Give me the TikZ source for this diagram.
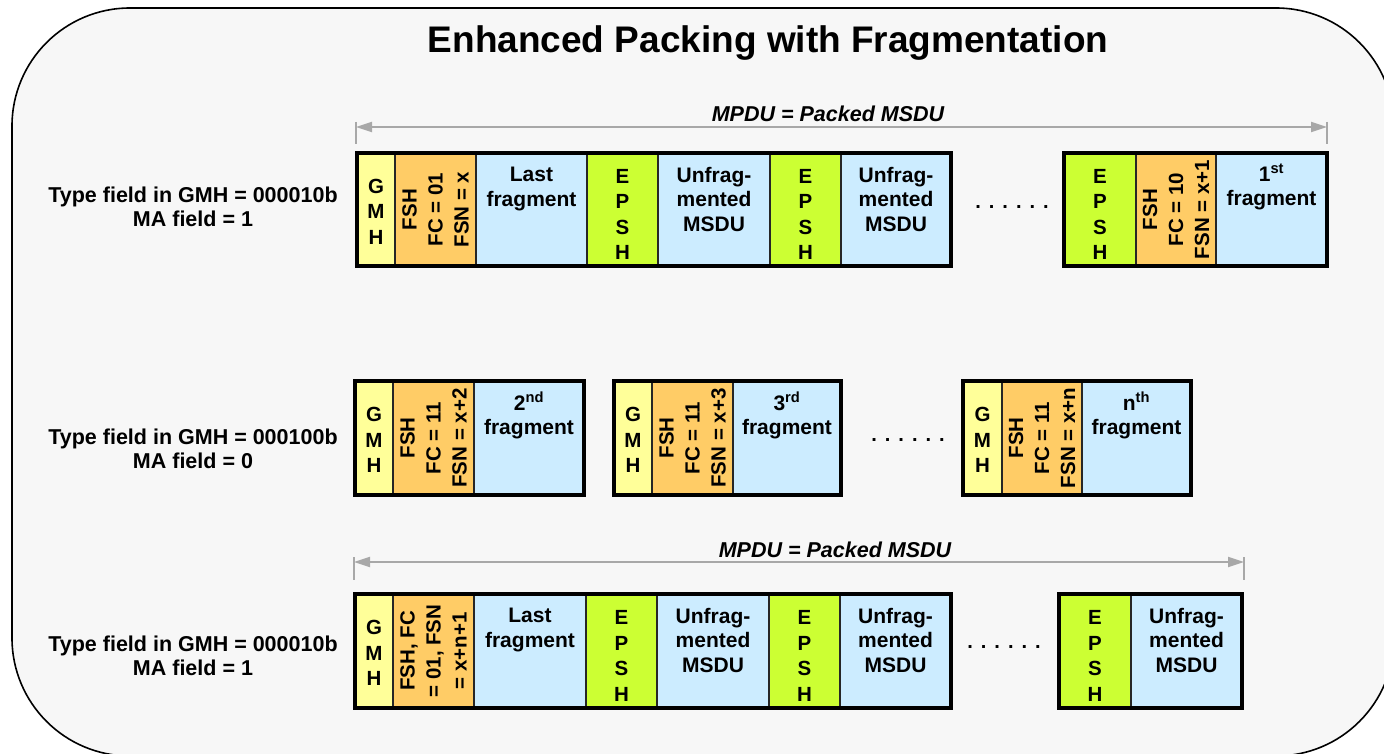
\documentclass[tikz,border=0pt]{standalone}
\usepackage{fontspec}
\setmainfont{Liberation Sans}
\usetikzlibrary{arrows.meta}
\definecolor{gmhc}{HTML}{FFFF99}
\definecolor{fshc}{HTML}{FFCC66}
\definecolor{datac}{HTML}{CCECFF}
\definecolor{epshc}{HTML}{CCFF33}
\definecolor{bgc}{HTML}{F7F7F7}
\definecolor{arrc}{HTML}{A8A8A8}
\newcommand\mkcell[6]{\node[cellbox, fill=#6, anchor=north west, minimum width={(#4-#2)*1pt}, minimum height={(#5-#3)*1pt}] (#1) at (#2,#3) {};}
\begin{document}
\begin{tikzpicture}[x=1pt,y=-1pt,
  cellbox/.style={draw=black!85, line width=1.3pt, inner sep=0pt, outer sep=0pt},
  outerbox/.style={draw=black, line width=4pt},
  ctext/.style={font=\fontsize{21}{24.5}\selectfont\bfseries, align=center, inner sep=0pt, text=black},
  rtext/.style={font=\fontsize{20.5}{26}\selectfont\bfseries, align=center, inner sep=0pt, rotate=90},
  stack/.style={font=\fontsize{20.5}{25.5}\selectfont\bfseries, align=center, inner sep=0pt},
  rowlabel/.style={font=\fontsize{21.5}{24.5}\selectfont\bfseries, align=center, inner sep=0pt},
  mpdu/.style={font=\fontsize{21.5}{24}\selectfont\bfseries\itshape, inner sep=0pt},
  dots/.style={font=\fontsize{20}{24}\selectfont\bfseries, inner sep=0pt},
  span/.style={draw=arrc, line width=1.8pt, {Triangle[length=16pt,width=10pt,fill=arrc]}-{Triangle[length=16pt,width=10pt,fill=arrc]}},
  tick/.style={draw=arrc, line width=1.8pt}
]
\useasboundingbox (0,0) rectangle (1384,754);
\begin{scope}
\clip[rounded corners=118pt] (12,8) rectangle (1394,756);
\fill[bgc] (0,0) rectangle (1400,760);
\end{scope}
\draw[line width=1.6pt, rounded corners=118pt] (12,8) rectangle (1394,756);

\node[font=\fontsize{37}{40}\selectfont\bfseries, inner sep=0pt] (title) at (768,43) {Enhanced Packing with Fragmentation};

% ---------- Row 1 ----------
\node[rowlabel] (lab1) at (193,207) {Type field in GMH = 000010b\\MA field = 1};
\coordinate (a1l) at (356,127);
\coordinate (a1r) at (1327,127);
\coordinate (t1lt) at (356,122); \coordinate (t1lb) at (356,144);
\coordinate (t1rt) at (1327,122); \coordinate (t1rb) at (1327,144);
\draw[tick] (t1lt) -- (t1lb);
\draw[tick] (t1rt) -- (t1rb);
\draw[span] (a1l) -- (a1r);
\node[mpdu] (m1) at (828,114) {MPDU = Packed MSDU};

\mkcell{g1}{357}{153}{395}{266}{gmhc}
\mkcell{f1}{395}{153}{476}{266}{fshc}
\mkcell{l1}{476}{153}{587}{266}{datac}
\mkcell{e1}{587}{153}{658}{266}{epshc}
\mkcell{u1}{658}{153}{770}{266}{datac}
\mkcell{e2}{770}{153}{841}{266}{epshc}
\mkcell{u2}{841}{153}{951}{266}{datac}
\draw[outerbox] (g1.north west) rectangle (u2.south east);
\node[stack] (g1t) at ([yshift=-2pt]g1.center) {G\\M\\H};
\node[rtext] (f1t) at (f1.center) {FSH\\FC = 01\\FSN = x};
\node[ctext, anchor=north] (l1t) at ([yshift=-14pt]l1.north) {Last\\fragment};
\node[stack] (e1t) at ([yshift=-5pt]e1.center) {E\\P\\S\\H};
\node[ctext, anchor=north] (u1t) at ([yshift=-14pt]u1.north) {Unfrag-\\mented\\MSDU};
\node[stack] (e2t) at ([yshift=-5pt]e2.center) {E\\P\\S\\H};
\node[ctext, anchor=north] (u2t) at ([yshift=-14pt]u2.north) {Unfrag-\\mented\\MSDU};

\node[dots] (d1) at (1012,207) {.\hspace{8pt}.\hspace{8pt}.\hspace{8pt}.\hspace{8pt}.\hspace{8pt}.};

\mkcell{e3}{1064}{153}{1136}{266}{epshc}
\mkcell{f2}{1136}{153}{1216}{266}{fshc}
\mkcell{s1}{1216}{153}{1327}{266}{datac}
\draw[outerbox] (e3.north west) rectangle (s1.south east);
\node[stack] (e3t) at ([yshift=-5pt]e3.center) {E\\P\\S\\H};
\node[rtext] (f2t) at (f2.center) {FSH\\FC = 10\\FSN = x+1};
\node[ctext, anchor=north] (s1t) at ([yshift=-11pt]s1.north) {1\textsuperscript{st}\\fragment};

% ---------- Row 2 ----------
\node[rowlabel] (lab2) at (193,449) {Type field in GMH = 000100b\\MA field = 0};

\mkcell{g2}{355}{381}{393}{495}{gmhc}
\mkcell{f3}{393}{381}{474}{495}{fshc}
\mkcell{s2}{474}{381}{584}{495}{datac}
\draw[outerbox] (g2.north west) rectangle (s2.south east);
\node[stack] (g2t) at ([yshift=-2pt]g2.center) {G\\M\\H};
\node[rtext] (f3t) at (f3.center) {FSH\\FC = 11\\FSN = x+2};
\node[ctext, anchor=north] (s2t) at ([yshift=-11pt]s2.north) {2\textsuperscript{nd}\\fragment};

\mkcell{g3}{614}{381}{652}{495}{gmhc}
\mkcell{f4}{652}{381}{733}{495}{fshc}
\mkcell{s3}{733}{381}{841}{495}{datac}
\draw[outerbox] (g3.north west) rectangle (s3.south east);
\node[stack] (g3t) at ([yshift=-2pt]g3.center) {G\\M\\H};
\node[rtext] (f4t) at (f4.center) {FSH\\FC = 11\\FSN = x+3};
\node[ctext, anchor=north] (s3t) at ([yshift=-11pt]s3.north) {3\textsuperscript{rd}\\fragment};

\node[dots] (d2) at (908,440) {.\hspace{8pt}.\hspace{8pt}.\hspace{8pt}.\hspace{8pt}.\hspace{8pt}.};

\mkcell{g4}{963}{381}{1002}{495}{gmhc}
\mkcell{f5}{1002}{381}{1082}{495}{fshc}
\mkcell{s4}{1082}{381}{1191}{495}{datac}
\draw[outerbox] (g4.north west) rectangle (s4.south east);
\node[stack] (g4t) at ([yshift=-2pt]g4.center) {G\\M\\H};
\node[rtext] (f5t) at (f5.center) {FSH\\FC = 11\\FSN = x+n};
\node[ctext, anchor=north] (s4t) at ([yshift=-11pt]s4.north) {n\textsuperscript{th}\\fragment};

% ---------- Row 3 ----------
\node[rowlabel] (lab3) at (193,656) {Type field in GMH = 000010b\\MA field = 1};
\coordinate (a3l) at (354,562);
\coordinate (a3r) at (1244,562);
\coordinate (t3lt) at (354,557); \coordinate (t3lb) at (354,580);
\coordinate (t3rt) at (1244,557); \coordinate (t3rb) at (1244,580);
\draw[tick] (t3lt) -- (t3lb);
\draw[tick] (t3rt) -- (t3rb);
\draw[span] (a3l) -- (a3r);
\node[mpdu] (m3) at (835,550) {MPDU = Packed MSDU};

\mkcell{g5}{355}{594}{393}{708}{gmhc}
\mkcell{f6}{393}{594}{474}{708}{fshc}
\mkcell{l2}{474}{594}{586}{708}{datac}
\mkcell{e4}{586}{594}{657}{708}{epshc}
\mkcell{u3}{657}{594}{769}{708}{datac}
\mkcell{e5}{769}{594}{840}{708}{epshc}
\mkcell{u4}{840}{594}{951}{708}{datac}
\draw[outerbox] (g5.north west) rectangle (u4.south east);
\node[stack] (g5t) at ([yshift=-2pt]g5.center) {G\\M\\H};
\node[rtext] (f6t) at (f6.center) {FSH, FC\\= 01, FSN\\= x+n+1};
\node[ctext, anchor=north] (l2t) at ([yshift=-14pt]l2.north) {Last\\fragment};
\node[stack] (e4t) at ([yshift=-5pt]e4.center) {E\\P\\S\\H};
\node[ctext, anchor=north] (u3t) at ([yshift=-14pt]u3.north) {Unfrag-\\mented\\MSDU};
\node[stack] (e5t) at ([yshift=-5pt]e5.center) {E\\P\\S\\H};
\node[ctext, anchor=north] (u4t) at ([yshift=-14pt]u4.north) {Unfrag-\\mented\\MSDU};

\node[dots] (d3) at (1004,647) {.\hspace{8pt}.\hspace{8pt}.\hspace{8pt}.\hspace{8pt}.\hspace{8pt}.};

\mkcell{e6}{1059}{594}{1131}{708}{epshc}
\mkcell{u5}{1131}{594}{1242}{708}{datac}
\draw[outerbox] (e6.north west) rectangle (u5.south east);
\node[stack] (e6t) at ([yshift=-5pt]e6.center) {E\\P\\S\\H};
\node[ctext, anchor=north] (u5t) at ([yshift=-14pt]u5.north) {Unfrag-\\mented\\MSDU};
\end{tikzpicture}
\end{document}
